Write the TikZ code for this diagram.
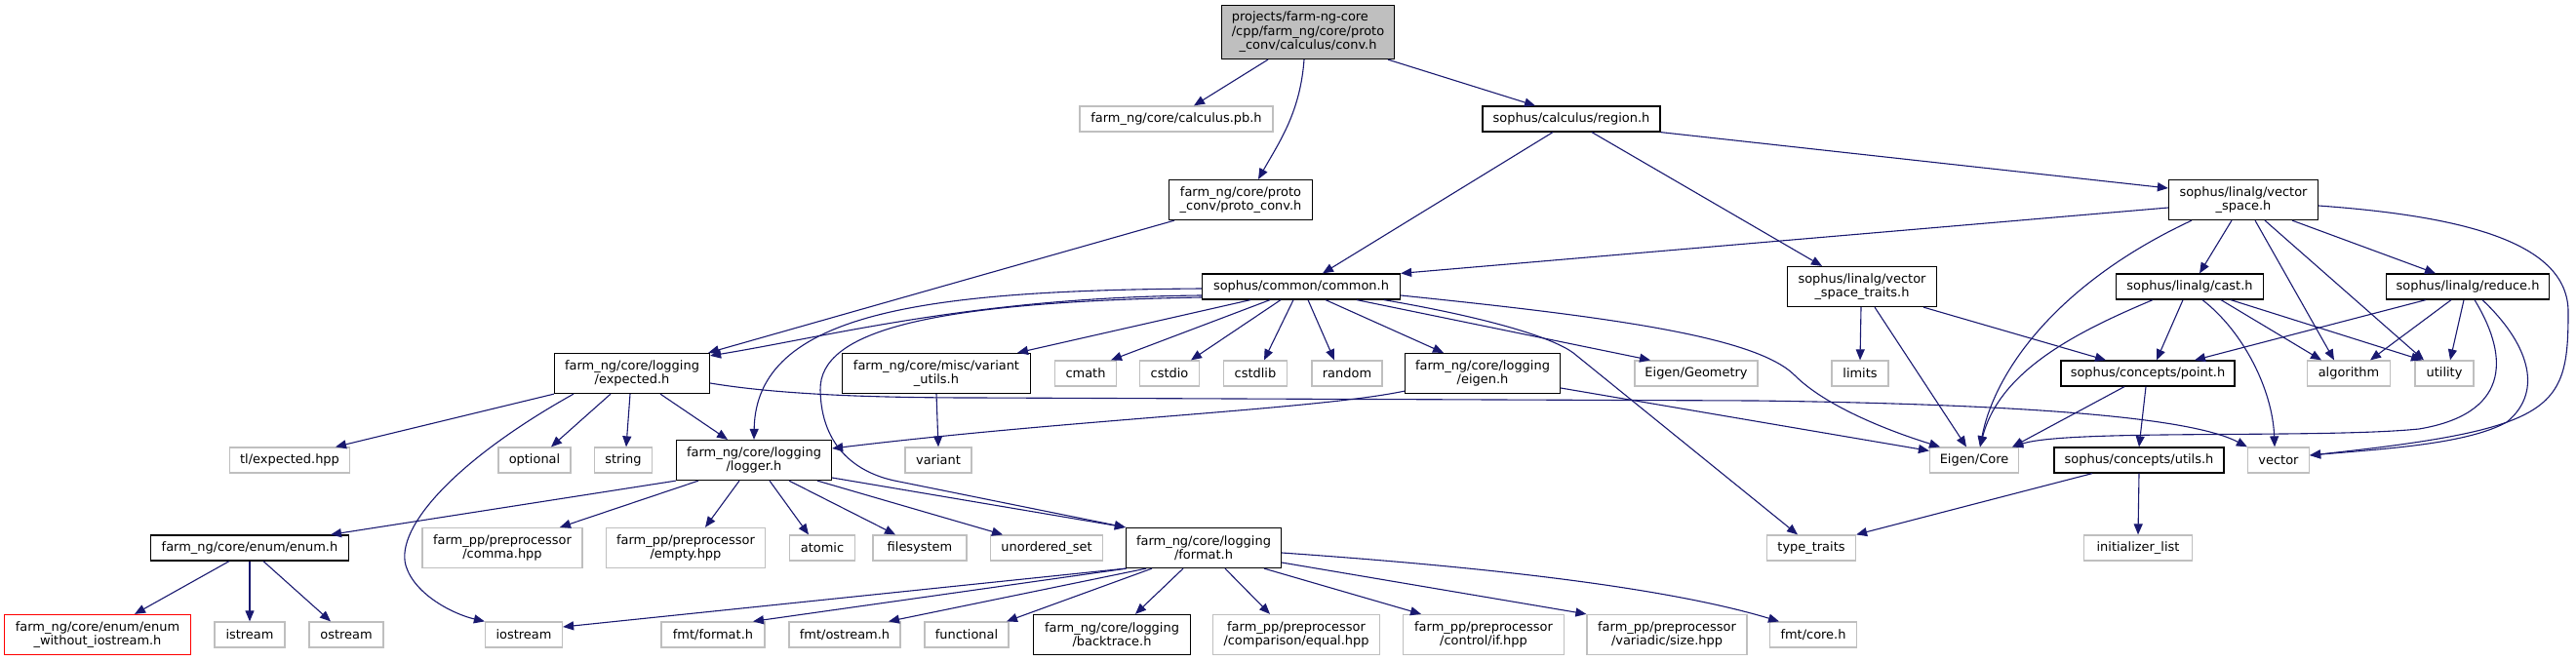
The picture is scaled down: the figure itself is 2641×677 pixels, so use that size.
\documentclass[tikz,border=0pt]{standalone}
\usepackage{fontspec}
\setmainfont{DejaVu Sans}
\usetikzlibrary{arrows.meta}
\definecolor{edgec}{HTML}{191970}
\definecolor{graybd}{HTML}{BFBFBF}
\definecolor{rootfill}{HTML}{BFBFBF}
\tikzset{
  box/.style={rectangle, draw=black, fill=white, line width=1.25pt, inner sep=0pt,
    align=center, font=\fontsize{12.95}{14.4}\selectfont, minimum height=26pt},
  gbox/.style={box, draw=graybd},
  rbox/.style={box, draw=red},
  rootbox/.style={box, fill=rootfill},
  two/.style={minimum height=41pt},
  e/.style={draw=edgec, line width=1.1pt, -{Triangle[length=11pt,width=9pt]}},
}
\begin{document}
\begin{tikzpicture}[x=1pt,y=-1pt]
\useasboundingbox (0,0) rectangle (2641,677);
% row 0
\node[rootbox, minimum width=177pt, minimum height=55pt] (root) at (1341,33) {\rlap{projects/farm-ng-core}\phantom{/cpp/farm\_ng/core/proto}\\/cpp/farm\_ng/core/proto\\\_conv/calculus/conv.h};
% row 1
\node[gbox, minimum width=198pt] (calcpb) at (1206,122) {farm\_ng/core/calculus.pb.h};
\node[box, minimum width=182pt] (region) at (1611,122) {sophus/calculus/region.h};
% row 2
\node[box, two, minimum width=147pt] (protoconv) at (1272,205) {farm\_ng/core/proto\\\_conv/proto\_conv.h};
\node[box, two, minimum width=153pt] (vs) at (2300,205) {sophus/linalg/vector\\\_space.h};
% row 3
\node[box, minimum width=203pt] (common) at (1334,294) {sophus/common/common.h};
\node[box, two, minimum width=153pt] (traits) at (1909,294) {sophus/linalg/vector\\\_space\_traits.h};
\node[box, minimum width=151pt] (cast) at (2245,294) {sophus/linalg/cast.h};
\node[box, minimum width=167pt] (reduce) at (2530,294) {sophus/linalg/reduce.h};
% row 4
\node[box, two, minimum width=159pt] (expected) at (648,383) {farm\_ng/core/logging\\/expected.h};
\node[box, two, minimum width=193pt] (variantutils) at (960,383) {farm\_ng/core/misc/variant\\\_utils.h};
\node[gbox, minimum width=63pt] (cmath) at (1113,383) {cmath};
\node[gbox, minimum width=61pt] (cstdio) at (1199,383) {cstdio};
\node[gbox, minimum width=65pt] (cstdlib) at (1287,383) {cstdlib};
\node[gbox, minimum width=72pt] (random) at (1381,383) {random};
\node[box, two, minimum width=159pt] (eigenh) at (1520,383) {farm\_ng/core/logging\\/eigen.h};
\node[gbox, minimum width=126pt] (geometry) at (1739,383) {Eigen/Geometry};
\node[gbox, minimum width=58pt] (limits) at (1907,383) {limits};
\node[box, minimum width=178pt] (point) at (2202,383) {sophus/concepts/point.h};
\node[gbox, minimum width=85pt] (algorithm) at (2408,383) {algorithm};
\node[gbox, minimum width=60pt] (utility) at (2506,383) {utility};
% row 5
\node[gbox, minimum width=123pt] (tlexp) at (297,472) {tl/expected.hpp};
\node[gbox, minimum width=74pt] (optional) at (548,472) {optional};
\node[gbox, minimum width=59pt] (string) at (639,472) {string};
\node[box, two, minimum width=159pt] (logger) at (773,472) {farm\_ng/core/logging\\/logger.h};
\node[gbox, minimum width=68pt] (variant) at (962,472) {variant};
\node[gbox, minimum width=91pt] (eigencore) at (2024,472) {Eigen/Core};
\node[box, minimum width=174pt] (utils) at (2193,472) {sophus/concepts/utils.h};
\node[gbox, minimum width=63pt] (vector) at (2336,472) {vector};
% row 6
\node[box, minimum width=203pt] (enum) at (256,562) {farm\_ng/core/enum/enum.h};
\node[gbox, two, minimum width=164pt] (comma) at (515,562) {farm\_pp/preprocessor\\/comma.hpp};
\node[gbox, two, minimum width=163pt] (empty) at (703,562) {farm\_pp/preprocessor\\/empty.hpp};
\node[gbox, minimum width=67pt] (atomic) at (843,562) {atomic};
\node[gbox, minimum width=96pt] (filesystem) at (943,562) {filesystem};
\node[gbox, minimum width=115pt] (unordered) at (1073,562) {unordered\_set};
\node[box, two, minimum width=159pt] (format) at (1234,562) {farm\_ng/core/logging\\/format.h};
\node[gbox, minimum width=91pt] (typetraits) at (1857,562) {type\_traits};
\node[gbox, minimum width=111pt] (initlist) at (2192,562) {initializer\_list};
% row 7
\node[rbox, two, minimum width=191pt] (enumwo) at (100,651) {farm\_ng/core/enum/enum\\\_without\_iostream.h};
\node[gbox, minimum width=72pt] (istream) at (256,651) {istream};
\node[gbox, minimum width=76pt] (ostream) at (355,651) {ostream};
\node[gbox, minimum width=79pt] (iostream) at (537,651) {iostream};
\node[gbox, minimum width=106pt] (fmtformat) at (731,651) {fmt/format.h};
\node[gbox, minimum width=114pt] (fmtostream) at (866,651) {fmt/ostream.h};
\node[gbox, minimum width=86pt] (functional) at (991,651) {functional};
\node[box, two, minimum width=161pt] (backtrace) at (1140,651) {farm\_ng/core/logging\\/backtrace.h};
\node[gbox, two, minimum width=171pt] (equal) at (1329,651) {farm\_pp/preprocessor\\/comparison/equal.hpp};
\node[gbox, two, minimum width=165pt] (ifh) at (1521,651) {farm\_pp/preprocessor\\/control/if.hpp};
\node[gbox, two, minimum width=164pt] (size) at (1709,651) {farm\_pp/preprocessor\\/variadic/size.hpp};
\node[gbox, minimum width=89pt] (fmtcore) at (1859,651) {fmt/core.h};

% ---- edges
% root
\draw[e] ([xshift=-41pt]root.south) -- ([xshift=18pt]calcpb.north);
\draw[e] ([xshift=-4pt]root.south) .. controls (1333,115) and (1312,145) .. ([xshift=18pt]protoconv.north);
\draw[e] ([xshift=82pt]root.south) -- ([xshift=-37pt]region.north);
% region
\draw[e] ([xshift=-19pt]region.south) -- ([xshift=22pt]common.north);
\draw[e] ([xshift=21pt]region.south) -- ([xshift=-41pt]traits.north);
\draw[e] (region.south east) -- ([yshift=12pt]vs.west);
% proto_conv
\draw[e] ([xshift=-68pt]protoconv.south) -- ([xshift=-2pt]expected.north east);
% vector_space
\draw[e] ([yshift=-8pt]vs.west) -- (common.north east);
\draw[e] ([xshift=-53pt]vs.south) .. controls (2110,290) and (2045,380) .. ([xshift=6pt]eigencore.north);
\draw[e] ([xshift=-12pt]vs.south) -- ([xshift=10pt]cast.north);
\draw[e] ([xshift=12pt]vs.south) -- ([xshift=-15pt]algorithm.north);
\draw[e] ([xshift=22pt]vs.south) -- ([xshift=-21pt]utility.north);
\draw[e] ([xshift=50pt]vs.south) -- ([xshift=-33pt]reduce.north);
\draw[e] ([yshift=-6pt]vs.east) .. controls (2530,222) and (2633,250) .. (2633,320) .. controls (2633,420) and (2620,440) .. ([yshift=5pt]vector.east);
% traits
\draw[e] ([xshift=-1pt]traits.south) -- (limits.north);
\draw[e] ([xshift=13pt]traits.south) -- ([xshift=-8pt]eigencore.north);
\draw[e] ([xshift=63pt]traits.south) -- ([xshift=-43pt]point.north);
% cast
\draw[e] ([xshift=-38pt]cast.south) .. controls (2130,340) and (2050,380) .. ([xshift=6pt]eigencore.north);
\draw[e] ([xshift=-7pt]cast.south) -- ([xshift=9pt]point.north);
\draw[e] ([xshift=13pt]cast.south) .. controls (2300,340) and (2330,400) .. ([xshift=-4pt]vector.north);
\draw[e] ([xshift=32pt]cast.south) -- ([xshift=-28pt]algorithm.north);
\draw[e] ([xshift=42pt]cast.south) -- ([xshift=-23pt]utility.north);
% reduce
\draw[e] ([xshift=-43pt]reduce.south) -- ([xshift=48pt]point.north);
\draw[e] ([xshift=-17pt]reduce.south) -- ([xshift=22pt]algorithm.north);
\draw[e] ([xshift=-4pt]reduce.south) -- ([xshift=6pt]utility.north);
\draw[e] ([xshift=7pt]reduce.south) .. controls (2575,370) and (2570,425) .. (2480,440) .. controls (2380,450) and (2120,440) .. ([xshift=-7pt]eigencore.north east);
\draw[e] ([xshift=15pt]reduce.south) .. controls (2590,350) and (2610,400) .. (2570,433) .. controls (2530,455) and (2450,460) .. ([yshift=5pt]vector.east);
% point, utils
\draw[e] ([xshift=-24pt]point.south) -- ([xshift=-7pt]eigencore.north east);
\draw[e] ([xshift=-2pt]point.south) -- (utils.north);
\draw[e] ([xshift=-48pt]utils.south) -- (typetraits.north east);
\draw[e] (utils.south) -- (initlist.north);
% common
\draw[e] ([yshift=-2pt]common.west) .. controls (950,298) and (775,320) .. (logger.north);
\draw[e] ([yshift=-9pt]common.west) .. controls (1000,305) and (850,345) .. ([yshift=-3pt]expected.north east);
\draw[e] ([yshift=-11pt]common.west) .. controls (950,310) and (840,340) .. (841,400) .. controls (842,460) and (880,485) .. (917,493) -- (format.north west);
\draw[e] ([xshift=-52pt]common.south) -- ([xshift=83pt]variantutils.north);
\draw[e] ([xshift=-32pt]common.south) -- ([xshift=26pt]cmath.north);
\draw[e] ([xshift=-21pt]common.south) -- ([xshift=22pt]cstdio.north);
\draw[e] ([xshift=-8pt]common.south) -- ([xshift=9pt]cstdlib.north);
\draw[e] ([xshift=7pt]common.south) -- ([xshift=-13pt]random.north);
\draw[e] ([xshift=25pt]common.south) -- ([xshift=-40pt]eigenh.north);
\draw[e] ([xshift=57pt]common.south) -- ([xshift=-47pt]geometry.north);
\draw[e] ([xshift=85pt]common.south) .. controls (1520,325) and (1590,345) .. (1613,362) -- ([xshift=-14pt]typetraits.north);
\draw[e] ([yshift=-9pt]common.east) .. controls (1650,325) and (1800,345) .. (1840,385) .. controls (1870,415) and (1930,440) .. ([xshift=-35pt]eigencore.north);
% expected
\draw[e] (expected.south west) -- ([xshift=47pt]tlexp.north);
\draw[e] ([xshift=-22pt]expected.south) -- ([xshift=17pt]optional.north);
\draw[e] ([xshift=-2pt]expected.south) -- ([xshift=3pt]string.north);
\draw[e] ([xshift=29pt]expected.south) -- ([xshift=-27pt]logger.north);
\draw[e] ([xshift=-60pt]expected.south) .. controls (470,470) and (405,540) .. (416,580) .. controls (425,610) and (465,630) .. (iostream.north west);
\draw[e] ([yshift=-10pt]expected.east) .. controls (800,405) and (900,408) .. (1000,408) -- (1800,411) .. controls (2100,415) and (2250,430) .. (vector.north west);
% eigen.h
\draw[e] ([yshift=3pt]eigenh.south west) .. controls (1350,420) and (1100,430) .. ([yshift=12pt]logger.east);
\draw[e] ([yshift=-15pt]eigenh.east) -- ([yshift=-4pt]eigencore.north west);
% variant utils
\draw[e] (variantutils.south) -- (variant.north);
% logger
\draw[e] (logger.south west) -- ([xshift=83pt]enum.north);
\draw[e] ([xshift=-57pt]logger.south) -- ([xshift=59pt]comma.north);
\draw[e] ([xshift=-15pt]logger.south) -- ([xshift=20pt]empty.north);
\draw[e] ([xshift=16pt]logger.south) -- ([xshift=-14pt]atomic.north);
\draw[e] ([xshift=36pt]logger.south) -- ([xshift=-25pt]filesystem.north);
\draw[e] ([xshift=65pt]logger.south) -- ([xshift=-45pt]unordered.north);
\draw[e] ([yshift=-18pt]logger.east) -- (format.north west);
% enum
\draw[e] ([xshift=-21pt]enum.south) -- ([xshift=38pt]enumwo.north);
\draw[e] (enum.south) -- (istream.north);
\draw[e] ([xshift=14pt]enum.south) -- ([xshift=-16pt]ostream.north);
% format
\draw[e] (format.south west) -- ([yshift=8pt]iostream.east);
\draw[e] ([xshift=1pt]format.south west) -- ([xshift=41pt]fmtformat.north);
\draw[e] ([xshift=-59pt]format.south) -- ([xshift=45pt]fmtostream.north);
\draw[e] ([xshift=-53pt]format.south) -- ([xshift=41pt]functional.north);
\draw[e] ([xshift=-21pt]format.south) -- ([xshift=24pt]backtrace.north);
\draw[e] ([xshift=22pt]format.south) -- ([xshift=-27pt]equal.north);
\draw[e] ([xshift=62pt]format.south) -- ([xshift=-64pt]ifh.north);
\draw[e] ([yshift=-15pt]format.east) -- (size.north west);
\draw[e] ([yshift=-5pt]format.east) .. controls (1500,580) and (1700,600) .. ([xshift=-35pt]fmtcore.north);
\end{tikzpicture}
\end{document}
